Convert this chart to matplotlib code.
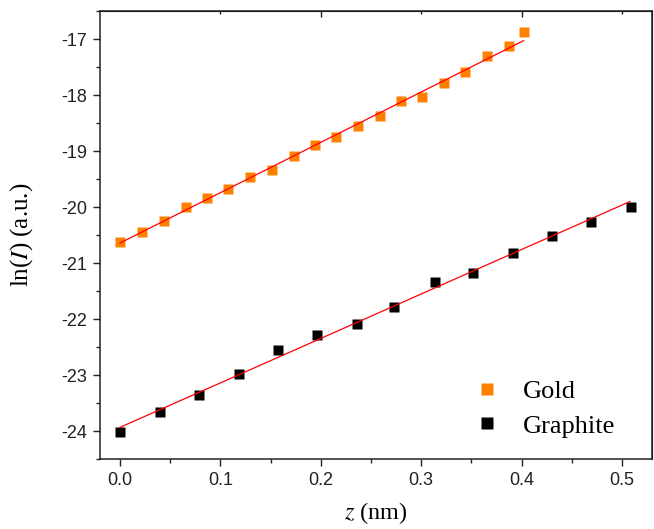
import matplotlib
matplotlib.use('Agg')
import matplotlib.pyplot as plt
from matplotlib.ticker import MultipleLocator

plt.rcParams['mathtext.fontset'] = 'stix'
plt.rcParams['axes.unicode_minus'] = False

# gold: tip-sample distance (nm) vs ln(I)
gold_z = [0.0, 0.0216, 0.0438, 0.0654, 0.0862, 0.1078, 0.1294, 0.151, 0.1731, 0.1947,
          0.2156, 0.2371, 0.2587, 0.2803, 0.3012, 0.3227, 0.344, 0.3655, 0.3874, 0.402]
gold_lnI = [-20.62, -20.44, -20.24, -20.00, -19.83, -19.68, -19.47, -19.33, -19.08, -18.89,
            -18.74, -18.56, -18.38, -18.10, -18.03, -17.78, -17.58, -17.31, -17.12, -16.88]

graphite_z = [0.0, 0.0402, 0.0789, 0.1187, 0.1574, 0.1961, 0.236, 0.2733, 0.3134, 0.3514,
              0.3910, 0.4306, 0.4693, 0.5092]
graphite_lnI = [-24.01, -23.66, -23.36, -22.98, -22.55, -22.29, -22.08, -21.79, -21.33, -21.17,
                -20.81, -20.52, -20.27, -19.99]

# linear fits (end points)
gold_fit_z = [0.0, 0.402]
gold_fit_lnI = [-20.64, -17.03]
graphite_fit_z = [0.0, 0.508]
graphite_fit_lnI = [-23.93, -19.90]

SERIF = 'Liberation Serif'
SANS = 'Liberation Sans'


def draw_data(ax):
    ax.plot(gold_z, gold_lnI, 's', color='#ff8000', markersize=6.8, mec='none',
            label='Gold', zorder=2)
    ax.plot(graphite_z, graphite_lnI, 's', color='black', markersize=6.5, mec='none',
            label='Graphite', zorder=2)
    ax.plot(gold_fit_z, gold_fit_lnI, '-', color='red', lw=0.9, zorder=3)
    ax.plot(graphite_fit_z, graphite_fit_lnI, '-', color='red', lw=0.9, zorder=3)


def style_axes(ax):
    ax.set_xlim(-0.02, 0.53)
    ax.set_ylim(-24.5, -16.5)
    ax.xaxis.set_major_locator(MultipleLocator(0.1))
    ax.xaxis.set_minor_locator(MultipleLocator(0.05))
    ax.yaxis.set_major_locator(MultipleLocator(1))
    ax.yaxis.set_minor_locator(MultipleLocator(0.5))
    ax.tick_params(which='both', direction='out', width=1.0, color='#222222')
    ax.tick_params(which='major', length=5, pad=4, labelsize=13, labelcolor='#222222')
    ax.tick_params(which='minor', length=3)
    for lbl in ax.get_xticklabels() + ax.get_yticklabels():
        lbl.set_family(SANS)
    for sp in ax.spines.values():
        sp.set_linewidth(1.1)
        sp.set_color('#222222')

    # mirrored ticks on top / right (inward)
    top = ax.secondary_xaxis('top', transform=ax.transAxes)
    top.set_xticks([0.2, 0.4, 0.6, 0.8])
    top.set_xticks([0.1, 0.3, 0.5, 0.7, 0.9], minor=True)
    top.tick_params(which='both', direction='in', labeltop=False, width=1.0, color='#222222')
    top.tick_params(which='major', length=4)
    top.tick_params(which='minor', length=2.5)
    right = ax.secondary_yaxis('right', transform=ax.transAxes)
    right.set_yticks([0.2, 0.4, 0.6, 0.8])
    right.set_yticks([0.1, 0.3, 0.5, 0.7, 0.9], minor=True)
    right.tick_params(which='both', direction='in', labelright=False, width=1.0, color='#222222')
    right.tick_params(which='major', length=4.5)
    right.tick_params(which='minor', length=2.5)

    ax.set_xlabel(r'$z$ (nm)', fontsize=17.5, family=SERIF)
    ax.set_ylabel(r'ln($I$) (a.u.)', fontsize=18, family=SERIF)
    ax.xaxis.set_label_coords(0.5, -0.091)
    ax.yaxis.set_label_coords(-0.118, 0.5)

    ax.legend(loc='upper left', bbox_to_anchor=(0.678, 0.178), frameon=False,
              prop={'family': SERIF, 'size': 19}, handlelength=1.0, handletextpad=0.85,
              labelspacing=0.42, borderpad=0, borderaxespad=0, markerscale=1.25)


fig = plt.figure(figsize=(6.54, 5.29), dpi=100)
ax = fig.add_axes([0.1529, 0.1318, 0.8441, 0.8474])
draw_data(ax)
style_axes(ax)
fig.savefig('out.png', dpi=100)
plt.close(fig)
